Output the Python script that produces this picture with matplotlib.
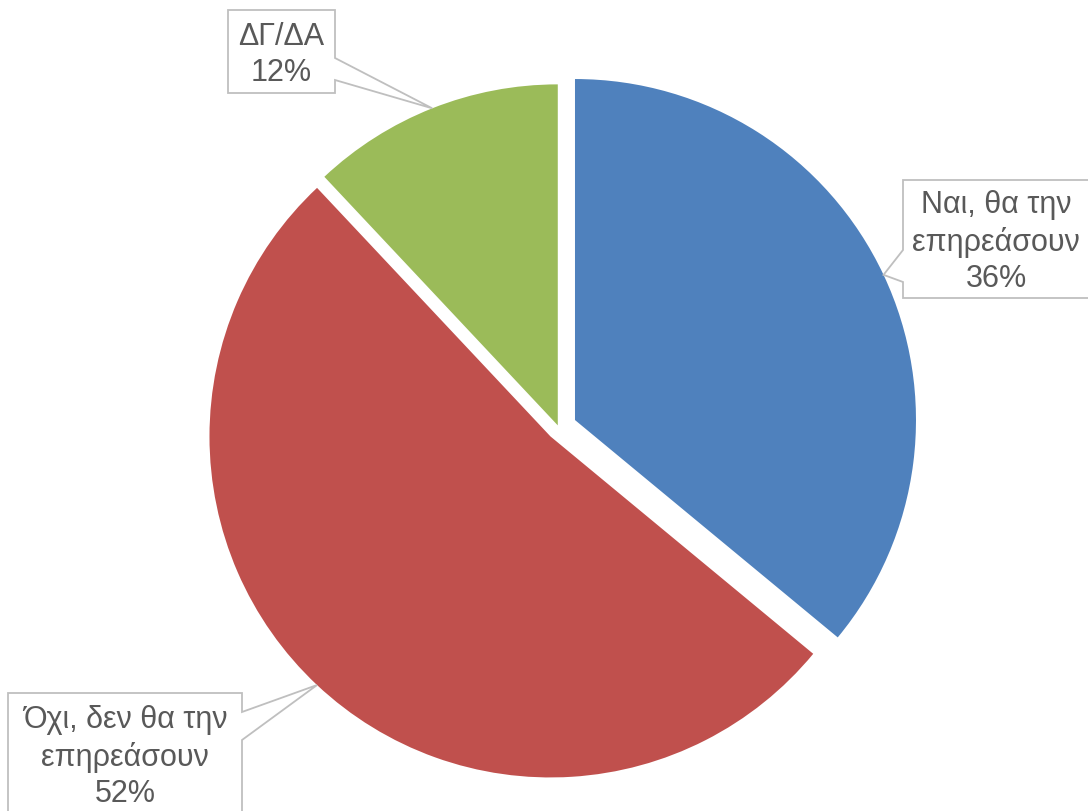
import numpy as np
import matplotlib
matplotlib.use('Agg')
import matplotlib.pyplot as plt
from matplotlib.patches import Polygon

# === Data ===
labels = ['Ναι, θα την\nεπηρεάσουν', 'Όχι, δεν θα την\nεπηρεάσουν', 'ΔΓ/ΔΑ']
values = [36, 52, 12]
colors = ['#4F81BD', '#C0504D', '#9BBB59']

# === Canvas (pixel coordinates, y up) ===
W, H = 1088, 811
DPI = 100
CENTER = (558.7, H - 427.7)
RADIUS = 341
EXPLODE = [18.0, 12.0, 2.5]   # pixel offsets (matplotlib uses data units)

TEXT_COLOR = '#595959'
BOX_EDGE = '#BFBFBF'

# label boxes in image pixels: (x0, y0, x1, y1, side, pointer_a, pointer_b)
boxes = [
    (903, 180, 1100, 298, 'left', 250, 282),
    (8, 693, 242, 830, 'right', 712, 740),
    (228, 10, 335, 93, 'right', 58, 80),
]
# text centres in image pixels
text_centres = [(996, 242), (125, 757), (281, 55)]

plt.rcParams['font.family'] = ['Liberation Sans', 'DejaVu Sans']

fig = plt.figure(figsize=(W / DPI, H / DPI), dpi=DPI)
ax = fig.add_axes([0, 0, 1, 1])

wedges, _ = ax.pie(values, colors=colors, startangle=90, counterclock=False,
                   explode=EXPLODE, center=CENTER, radius=RADIUS,
                   wedgeprops=dict(linewidth=0))
ax.set_xlim(0, W)
ax.set_ylim(0, H)
ax.set_aspect('equal')
ax.axis('off')


def callout(box, tip):
    x0, y0, x1, y1, side, pa, pb = box
    Y = lambda y: H - y
    if side == 'left':
        pts = [(x0, Y(y0)), (x1, Y(y0)), (x1, Y(y1)), (x0, Y(y1)),
               (x0, Y(pb)), tip, (x0, Y(pa))]
    else:
        pts = [(x0, Y(y0)), (x1, Y(y0)), (x1, Y(pa)), tip, (x1, Y(pb)),
               (x1, Y(y1)), (x0, Y(y1))]
    ax.add_patch(Polygon(pts, closed=True, facecolor='white',
                         edgecolor=BOX_EDGE, linewidth=1.3, zorder=5))


for w, lab, val, box, tc in zip(wedges, labels, values, boxes, text_centres):
    mid = np.deg2rad((w.theta1 + w.theta2) / 2)
    cx, cy = w.center
    tip = (cx + RADIUS * np.cos(mid), cy + RADIUS * np.sin(mid))
    callout(box, tip)
    ax.text(tc[0], H - tc[1], f'{lab}\n{val}%', ha='center', va='center',
            fontsize=22, color=TEXT_COLOR, linespacing=1.27, zorder=6)

fig.savefig('out.png', dpi=DPI, facecolor='white')
